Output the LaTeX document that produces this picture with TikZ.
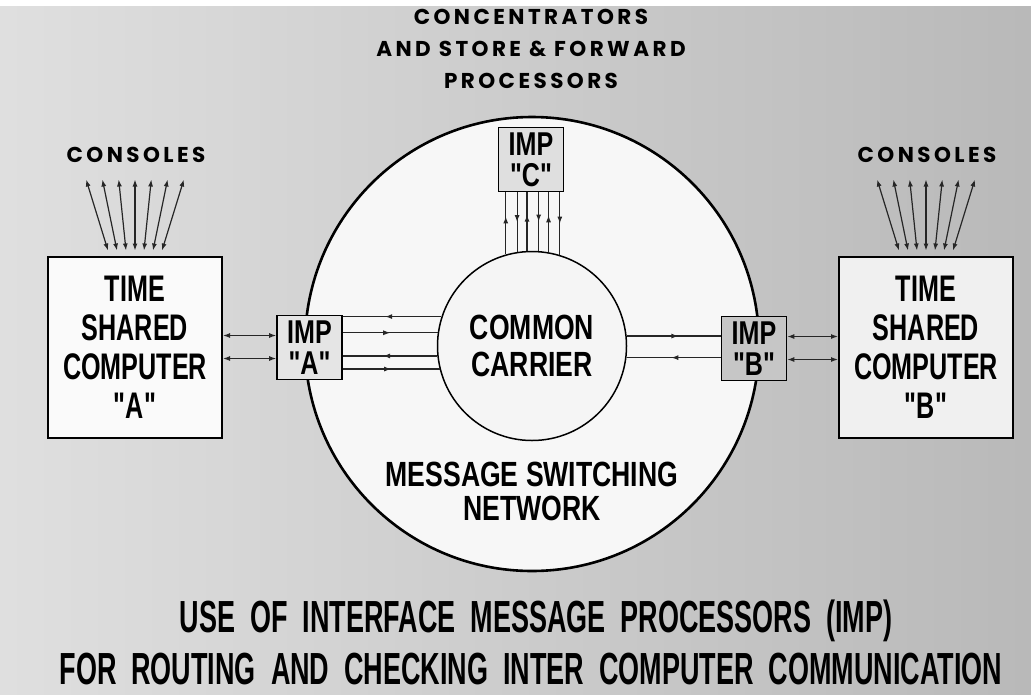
\documentclass[tikz,border=0pt]{standalone}
\usepackage{fontspec}
\newfontfamily\condfont[FakeStretch=0.68]{Liberation Sans}
\newfontfamily\netfont[FakeStretch=0.76]{Liberation Sans}
\newfontfamily\capfont[FakeStretch=0.6,WordSpace=2]{Liberation Sans}
\newfontfamily\widefont[LetterSpace=16]{Poppins}
\usetikzlibrary{positioning,calc}
\usetikzlibrary{shapes,arrows.meta,decorations.markings}

\begin{document}
\begin{tikzpicture}[x=1pt,y=-1pt,>={Latex[length=7pt,width=5pt]},
    computer/.style={rectangle,draw,line width=2pt,minimum width=174pt,minimum height=181pt,
        align=center,font=\condfont\bfseries\fontsize{37}{39}\selectfont},
    imp/.style={rectangle,draw,line width=1.6pt,minimum width=65pt,minimum height=64pt,
        inner sep=0pt,align=center,font=\netfont\bfseries\fontsize{33}{31}\selectfont},
    widelabel/.style={align=center,font=\widefont\bfseries\fontsize{21.5}{32}\selectfont},
    caption/.style={inner sep=0pt,font=\capfont\bfseries\fontsize{45}{50}\selectfont},
    link/.style={line width=1.2pt,black!85},
    midarrow/.style={postaction={decorate},decoration={markings,mark=at position #1 with {\arrow{>}}}},
    midback/.style={postaction={decorate},decoration={markings,mark=at position #1 with {\arrow{<}}}}]
    \useasboundingbox (0,0) rectangle (1031,694);
    \fill[white] (0,0) rectangle (1031,694);
    \fill[left color=gray!25,right color=gray!55] (0,6) rectangle (1031,694);

    % the network and the carrier inside it
    \node[circle,draw,line width=2.6pt,fill=gray!6,minimum size=454pt,inner sep=0pt] (net) at (532,344) {};
    \node[circle,draw,line width=1.5pt,fill=gray!8,minimum size=189pt,inner sep=0pt,align=center,
        font=\netfont\bfseries\fontsize{35}{37}\selectfont] (carrier) at (532,346) {COMMON\\CARRIER};
    \node[align=center,font=\netfont\bfseries\fontsize{35}{34}\selectfont] (msn) at (532,491) {MESSAGE SWITCHING\\NETWORK};

    % interface message processors
    \node[imp,fill=gray!20] (impa) at (309.5,347.5) {IMP\\"A"};
    \node[imp,fill=gray!45] (impb) at (754,348.5) {IMP\\"B"};
    \node[imp,fill=gray!25] (impc) at (531,159.5) {IMP\\"C"};

    % host computers
    \node[computer,fill=gray!4] (cpa) at (135,347) {TIME\\SHARED\\COMPUTER\\"A"};
    \node[computer,fill=gray!12] (cpb) at (926,347) {TIME\\SHARED\\COMPUTER\\"B"};

    \node[widelabel] (consa) at (136,155) {CONSOLES};
    \node[widelabel] (consb) at (927,155) {CONSOLES};
    \node[widelabel] (conc) at (531,49) {CONCENTRATORS\\AND STORE \& FORWARD\\PROCESSORS};

    \node[caption] (capa) at (536,621) {USE OF INTERFACE MESSAGE PROCESSORS (IMP)};
    \node[caption] (capb) at (531,669) {FOR ROUTING AND CHECKING INTER COMPUTER COMMUNICATION};

    % consoles
    \foreach \k in {-3,...,3} {
        \draw[link,<->] ($(cpa.north)+(9*\k,-5)$) -- ($(cpa.north)+(16.3*\k,-76)$);
        \draw[link,<->] ($(cpb.north)+(9*\k,-5)$) -- ($(cpb.north)+(16.3*\k,-76)$);
    }

    %IMP C down to the carrier
    \foreach \dx/\tip in {-27.5/midback,-16.5/midarrow,-5.5/midback,5.5/midarrow,16.5/midback,27.5/midarrow} {
        \pgfmathsetmacro\ang{acos(\dx/95.3)}
        \draw[link,\tip=0.5] (carrier.\ang |- impc.south) -- (carrier.\ang);
    }
    %IMP A to the carrier
    \foreach \dy/\tip in {-28/midback,-13/midarrow,10/midback,24/midarrow} {
        \pgfmathsetmacro\ang{180-asin(-\dy/95.3)}
        \draw[link,\tip=0.5] (impa.east |- carrier.\ang) -- (carrier.\ang);
    }
    %carrier to IMP B
    \foreach \dy/\tip in {-11/midarrow,12/midback} {
        \pgfmathsetmacro\ang{asin(-\dy/95.3)}
        \draw[link,\tip=0.55] (carrier.\ang) -- (impb.west |- carrier.\ang);
    }
    % hosts to their IMPs
    \foreach \dy in {-12,11} {
        \coordinate (pa) at ($(impa.west)+(0,\dy)$);
        \coordinate (pb) at ($(impb.east)+(0,\dy)$);
        \draw[link,<->] (cpa.east |- pa) -- (pa);
        \draw[link,<->] (pb) -- (cpb.west |- pb);
    }
\end{tikzpicture}
\end{document}
